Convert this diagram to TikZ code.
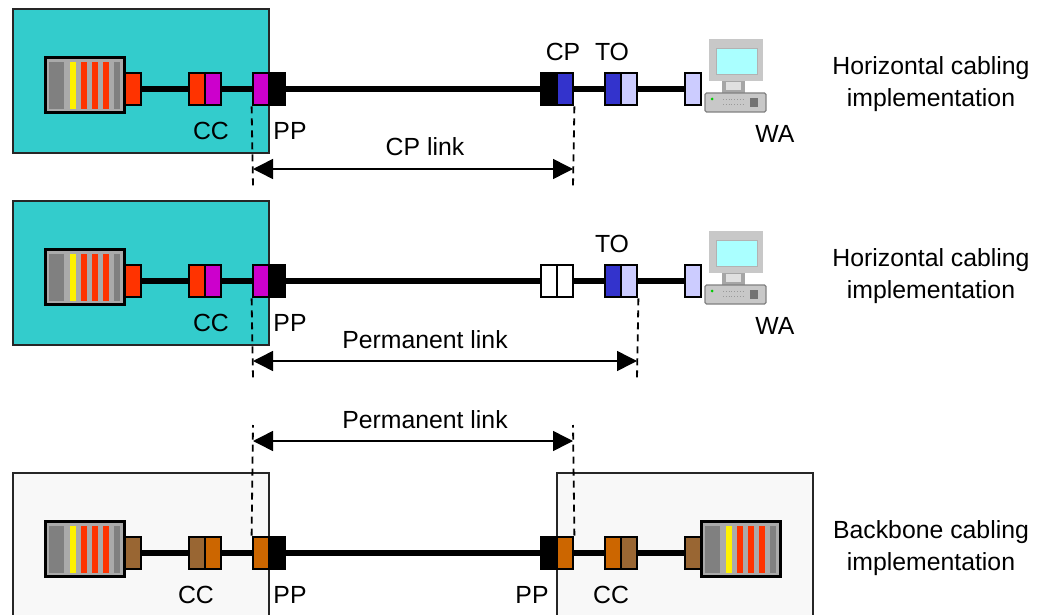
\documentclass[tikz,border=0pt]{standalone}
\usepackage{fontspec}
\setmainfont{Liberation Sans}
\usetikzlibrary{arrows.meta}
\definecolor{roomteal}{HTML}{33CCCC}
\definecolor{roomgrey}{HTML}{F8F8F8}
\definecolor{redport}{HTML}{FF3300}
\definecolor{magport}{HTML}{CC00CC}
\definecolor{blueport}{HTML}{3333CC}
\definecolor{lavport}{HTML}{CCCCFF}
\definecolor{orangeport}{HTML}{CC6600}
\definecolor{brownport}{HTML}{996633}
\definecolor{screenblue}{HTML}{AAFFFF}
\definecolor{panelgrey}{HTML}{AAAAAA}
\definecolor{stripegrey}{HTML}{808080}
\definecolor{casegrey}{HTML}{C8C8C8}
\tikzset{
  port/.style={draw=black,line width=2.8pt,minimum width=16pt,minimum height=32pt,inner sep=0pt,fill=#1},
  panel/.style={draw=black,line width=2.8pt,minimum width=79.5pt,minimum height=55.5pt,inner sep=0pt,fill=panelgrey},
  cable/.style={line width=5.5pt},
  room/.style={draw=black!85,line width=1.8pt,fill=#1},
  limit/.style={line width=1.8pt,dash pattern=on 7pt off 5pt},
  span/.style={line width=1.5pt,{Triangle[length=20pt,width=20pt]}-{Triangle[length=20pt,width=20pt]}},
  lbl/.style={font=\fontsize{24.8}{32}\selectfont,inner sep=0pt,align=center},
  stripes/.pic={
    \fill[stripegrey] (-36,-23) rectangle (-21,24);
    \fill[yellow] (-15,-23) rectangle (-9,24);
    \fill[redport] (-4,-23) rectangle (2,24);
    \fill[redport] (7,-23) rectangle (13,24);
    \fill[redport] (18,-23) rectangle (24,24);
    \fill[stripegrey] (29,-23) rectangle (35,24);
  },
  computer/.pic={
    \fill[casegrey] (-26,-36) rectangle (28,6);
    \fill[screenblue] (-19,-27) rectangle (22,-1);
    \draw[black!30,line width=0.8pt] (-19,-27) rectangle (22,-1);
    \fill[black!35] (-13,6) rectangle (10,18);
    \fill[black!12] (-9,7) rectangle (6,15);
    \fill[casegrey,draw=black!50,line width=1.2pt,rounded corners=1.5pt] (-30,18) rectangle (31,37);
    \fill[green!80!black] (-23,24) circle (1.5);
    \fill[black!55] (15,23) rectangle (23,32);
    \draw[black!40,line width=0.8pt,dotted] (-12,24) -- (8,24) (-12,29) -- (8,29);
  }
}
\begin{document}
\begin{tikzpicture}[x=1pt,y=-1pt]
\useasboundingbox (0,0) rectangle (1049,615);
% top row
\draw[room=roomteal] (13,9) rectangle (269,153);
\node[port=redport] (po1) at (133,89) {};
\node[panel] (pn1) at (85,85) {};
\pic at (pn1) {stripes};
\node[port=redport] (cc1a) at (197,89) {};
\node[port=magport] (cc1b) at (213,89) {};
\node[port=magport] (pp1a) at (261,89) {};
\node[port=black] (pp1b) at (277,89) {};
\node[port=black] (cp1a) at (549,89) {};
\node[port=blueport] (cp1b) at (565,89) {};
\node[port=blueport] (to1a) at (613,89) {};
\node[port=lavport] (to1b) at (629,89) {};
\node[port=lavport] (wa1) at (693,89) {};
\pic at (735,75) {computer};
\draw[cable] (po1) -- (cc1a);
\draw[cable] (cc1b) -- (pp1a);
\draw[cable] (pp1b) -- (cp1a);
\draw[cable] (cp1b) -- (to1a);
\draw[cable] (to1b) -- (wa1);
\coordinate (lim1a) at (253,186);
\coordinate (lim1b) at (573,186);
\coordinate (end1a) at (253,169);
\coordinate (end1b) at (573,169);
\draw[limit] (pp1a.south west) -- (lim1a);
\draw[limit] (cp1b.south east) -- (lim1b);
\draw[span] (end1a) -- (end1b);
\node[lbl] (cclbl1) at (211,131) {CC};
\node[lbl] (pplbl1) at (290,131) {PP};
\node[lbl] (cplbl1) at (563,52) {CP};
\node[lbl] (tolbl1) at (612,52) {TO};
\node[lbl] (walbl1) at (775,134) {WA};
\node[lbl] (linklbl1) at (425,147) {CP link};
\node[lbl] (desc1) at (931,84) {Horizontal cabling\\implementation};
% middle row
\draw[room=roomteal] (13,201) rectangle (269,345);
\node[port=redport] (po2) at (133,281) {};
\node[panel] (pn2) at (85,277) {};
\pic at (pn2) {stripes};
\node[port=redport] (cc2a) at (197,281) {};
\node[port=magport] (cc2b) at (213,281) {};
\node[port=magport] (pp2a) at (261,281) {};
\node[port=black] (pp2b) at (277,281) {};
\node[port=white] (cp2a) at (549,281) {};
\node[port=white] (cp2b) at (565,281) {};
\node[port=blueport] (to2a) at (613,281) {};
\node[port=lavport] (to2b) at (629,281) {};
\node[port=lavport] (wa2) at (693,281) {};
\pic at (735,267) {computer};
\draw[cable] (po2) -- (cc2a);
\draw[cable] (cc2b) -- (pp2a);
\draw[cable] (pp2b) -- (cp2a);
\draw[cable] (cp2b) -- (to2a);
\draw[cable] (to2b) -- (wa2);
\coordinate (lim2a) at (253,378);
\coordinate (lim2b) at (637,378);
\coordinate (end2a) at (253,361);
\coordinate (end2b) at (637,361);
\draw[limit] (pp2a.south west) -- (lim2a);
\draw[limit] (to2b.south east) -- (lim2b);
\draw[span] (end2a) -- (end2b);
\node[lbl] (cclbl2) at (211,323) {CC};
\node[lbl] (pplbl2) at (290,323) {PP};
\node[lbl] (tolbl2) at (612,244) {TO};
\node[lbl] (walbl2) at (775,326) {WA};
\node[lbl] (linklbl2) at (425,340) {Permanent link};
\node[lbl] (desc2) at (931,276) {Horizontal cabling\\implementation};
% bottom row
\draw[room=roomgrey] (13,615) -- (13,473) -- (269,473) -- (269,615);
\draw[room=roomgrey] (557,615) -- (557,473) -- (813,473) -- (813,615);
\node[port=brownport] (po3a) at (133,553) {};
\node[panel] (pn3a) at (85,549) {};
\pic at (pn3a) {stripes};
\node[port=brownport] (cc3a) at (197,553) {};
\node[port=orangeport] (cc3b) at (213,553) {};
\node[port=orangeport] (pp3a) at (261,553) {};
\node[port=black] (pp3b) at (277,553) {};
\node[port=black] (pp3c) at (549,553) {};
\node[port=orangeport] (pp3d) at (565,553) {};
\node[port=orangeport] (cc3c) at (613,553) {};
\node[port=brownport] (cc3d) at (629,553) {};
\node[port=brownport] (po3b) at (693,553) {};
\node[panel] (pn3b) at (741,549) {};
\pic at (pn3b) {stripes};
\draw[cable] (po3a) -- (cc3a);
\draw[cable] (cc3b) -- (pp3a);
\draw[cable] (pp3b) -- (pp3c);
\draw[cable] (pp3d) -- (cc3c);
\draw[cable] (cc3d) -- (po3b);
\coordinate (lim3a) at (253,425);
\coordinate (lim3b) at (573,425);
\coordinate (end3a) at (253,441);
\coordinate (end3b) at (573,441);
\draw[limit] (pp3a.north west) -- (lim3a);
\draw[limit] (pp3d.north east) -- (lim3b);
\draw[span] (end3a) -- (end3b);
\node[lbl] (cclbl3a) at (196,595) {CC};
\node[lbl] (pplbl3a) at (290,595) {PP};
\node[lbl] (pplbl3b) at (532,595) {PP};
\node[lbl] (cclbl3b) at (611,595) {CC};
\node[lbl] (linklbl3) at (425,420) {Permanent link};
\node[lbl] (desc3) at (931,548) {Backbone cabling\\implementation};
\end{tikzpicture}
\end{document}
